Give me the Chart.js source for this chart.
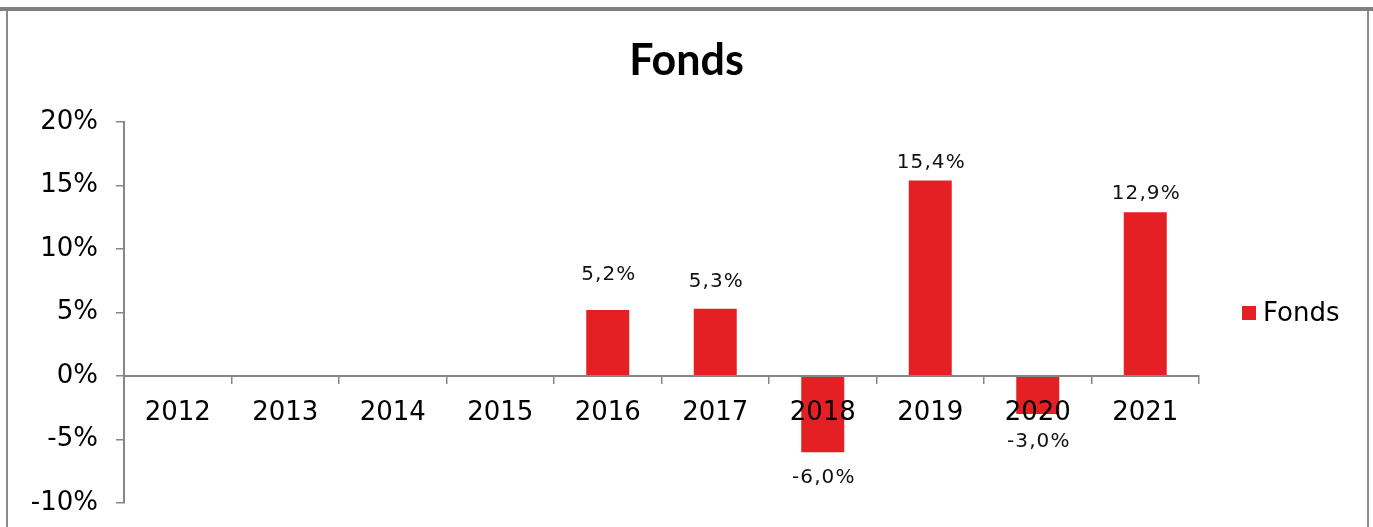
<!DOCTYPE html>
<html><head><meta charset="utf-8">
<script src="https://cdn.jsdelivr.net/npm/chart.js@4"></script>
<style>
html,body{margin:0;padding:0;background:#fff;overflow:hidden}
#wrap{position:relative;width:1373px;height:527px}
canvas{position:absolute;left:0;top:0}
.b{position:absolute;background:#808080}
</style></head><body>
<div id="wrap">
<canvas id="c" width="1373" height="527"></canvas>
<div class="b" style="left:0;top:7px;width:1373px;height:4px"></div>
<div class="b" style="left:6px;top:11px;width:2px;height:516px;background:#8c8c8c"></div>
<div class="b" style="left:1367px;top:11px;width:2px;height:516px;background:#8c8c8c"></div>
</div>
<script>
// ---- data ----
const categories = ['2012', '2013', '2014', '2015', '2016', '2017', '2018', '2019', '2020', '2021'];
const fondsValues = [null, null, null, null, 5.2, 5.3, -6.0, 15.4, -3.0, 12.9];
const seriesName = 'Fonds';
const chartTitle = 'Fonds';
const yTickValues = [-10, -5, 0, 5, 10, 15, 20];

// ---- style ----
const barColor = '#E52024';
const axisColor = '#868686';
const labelGap = [0, 0, 0, 0, 35, 27, 26, 18, 28, 18]; // px between bar end and label centre

const fmtPct = v => v.toFixed(1).replace('.', ',') + '%';

const dataLabels = {
  id: 'dataLabels',
  afterDatasetsDraw(chart) {
    const ctx = chart.ctx;
    const meta = chart.getDatasetMeta(0);
    ctx.save();
    ctx.font = '20px "DejaVu Sans"';
    ctx.letterSpacing = '1.1px';
    ctx.fillStyle = '#111';
    ctx.textAlign = 'center';
    ctx.textBaseline = 'middle';
    meta.data.forEach((el, i) => {
      const v = fondsValues[i];
      if (v === null || v === undefined) return;
      const y = v >= 0 ? el.y - labelGap[i] : el.y + labelGap[i];
      ctx.fillText(fmtPct(v), el.x + 1, y);
    });
    ctx.restore();
  }
};

const sideLegend = {
  id: 'sideLegend',
  afterDraw(chart) {
    const ctx = chart.ctx;
    const a = chart.chartArea;
    const cy = (a.top + a.bottom) / 2 + 0.5;
    const x0 = a.right + 43;
    ctx.save();
    ctx.fillStyle = barColor;
    ctx.fillRect(x0, cy - 7, 14, 14);
    ctx.fillStyle = '#000';
    ctx.font = '26px "DejaVu Sans"';
    ctx.textAlign = 'left';
    ctx.textBaseline = 'middle';
    ctx.fillText(seriesName, x0 + 21, cy + 1);
    ctx.restore();
  }
};

new Chart(document.getElementById('c'), {
  type: 'bar',
  data: {
    labels: categories,
    datasets: [{
      label: seriesName,
      data: fondsValues,
      backgroundColor: barColor,
      borderWidth: 0,
      barPercentage: 0.4,
      categoryPercentage: 1.0,
      yAxisID: 'y'
    }]
  },
  options: {
    responsive: false,
    animation: false,
    layout: { padding: { left: 0, right: 0, top: 0, bottom: 24 } },
    plugins: {
      legend: { display: false },
      tooltip: { enabled: false },
      title: {
        display: true,
        text: chartTitle,
        color: '#000',
        font: { family: 'Lato', weight: 'bold', size: 43 },
        padding: { top: 35, bottom: 35.4 }
      }
    },
    scales: {
      x: {
        position: { y: 0 },
        offset: true,
        grid: { display: true, offset: true, drawOnChartArea: false, drawTicks: true, tickLength: 7, color: axisColor, lineWidth: 1.5, z: 1 },
        border: { display: true, color: axisColor, width: 2, z: 1 },
        ticks: { color: '#000', font: { family: 'DejaVu Sans', size: 26 }, padding: 15, maxRotation: 0, autoSkip: false, z: 1 }
      },
      y: {
        position: 'left',
        min: yTickValues[0],
        max: yTickValues[yTickValues.length - 1],
        afterBuildTicks: s => { s.ticks = yTickValues.map(v => ({ value: v })); },
        afterFit: s => { s.width = 124; s.paddingTop = 0; s.paddingBottom = 0; },
        grid: { display: true, drawOnChartArea: false, drawTicks: true, tickLength: 8, color: axisColor, lineWidth: 1.5 },
        border: { display: true, color: axisColor, width: 2 },
        ticks: { color: '#000', font: { family: 'DejaVu Sans', size: 26 }, padding: 18, callback: v => v + '%' }
      },
      legendSpace: {
        type: 'linear',
        position: 'right',
        display: true,
        min: 0,
        max: 1,
        afterFit: s => { s.width = 174; s.paddingTop = 0; s.paddingBottom = 0; },
        grid: { display: false },
        border: { display: false },
        ticks: { display: false }
      }
    }
  },
  plugins: [dataLabels, sideLegend]
});
</script>
</body></html>
